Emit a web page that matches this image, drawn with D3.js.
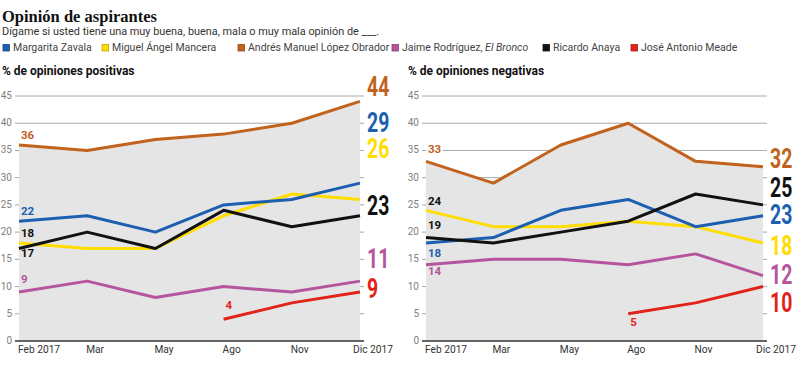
<!DOCTYPE html>
<html>
<head>
<meta charset="utf-8">
<script src="https://cdn.jsdelivr.net/npm/d3@7"></script>
<style>
  body { margin: 0; background: #fff; }
  svg text { font-family: Roboto, "Open Sans", sans-serif; }
</style>
</head>
<body>
<svg id="chart" width="800" height="371"></svg>
<script>
// data
const months = ["Feb 2017", "Mar", "May", "Ago", "Nov", "Dic 2017"];
const candidates = ["Margarita Zavala", "Miguel Ángel Mancera", "Andrés Manuel López Obrador",
  "Jaime Rodríguez, El Bronco", "Ricardo Anaya", "José Antonio Meade"];
const colors = ["#1c5fb0", "#ffdd00", "#c1621d", "#b4559e", "#111111", "#e2231a"];
const yTicks = [0, 5, 10, 15, 20, 25, 30, 35, 40, 45];

// % de opiniones positivas
const posZavala  = [22, 23, 20, 25, 26, 29];
const posMancera = [18, 17, 17, 23, 27, 26];
const posAmlo    = [36, 35, 37, 38, 40, 44];
const posBronco  = [9, 11, 8, 10, 9, 11];
const posAnaya   = [17, 20, 17, 24, 21, 23];
const posMeade   = [null, null, null, 4, 7, 9];

// % de opiniones negativas
const negZavala  = [18, 19, 24, 26, 21, 23];
const negMancera = [24, 21, 21, 22, 21, 18];
const negAmlo    = [33, 29, 36, 40, 33, 32];
const negBronco  = [14, 15, 15, 14, 16, 12];
const negAnaya   = [19, 18, 20, 22, 27, 25];
const negMeade   = [null, null, null, 5, 7, 10];

// label nudges (px), per candidate, to keep labels apart
const posStartDy = [-6, -6, -6, -9, 9, -10];
const posEndDy   = [-51, -41, -5, -13, -1, 6];
const negStartDy = [14, -5, -8, 10, -9, 12];
const negEndDy   = [8, 12, 1, 8, -8, 25];
const legendX = [2, 101, 237, 391, 542, 630];

const svg = d3.select("#chart");

// header
svg.append("text")
  .attr("x", 2).attr("y", 22)
  .style("font-family", "'Liberation Serif', serif")
  .style("font-weight", "bold")
  .style("font-size", "16.5px")
  .attr("fill", "#111")
  .text("Opinión de aspirantes");

svg.append("text")
  .attr("x", 2).attr("y", 35)
  .style("font-size", "10.9px")
  .attr("fill", "#333")
  .text("Dígame si usted tiene una muy buena, buena, mala o muy mala opinión de ___.");

const legend = svg.selectAll(".legend")
  .data(candidates)
  .enter().append("g")
  .attr("class", "legend")
  .attr("transform", (d, i) => `translate(${legendX[i]},51)`);

legend.append("rect")
  .attr("x", 1).attr("y", -6.5)
  .attr("width", 6.5).attr("height", 6.5)
  .attr("fill", (d, i) => colors[i])
  .attr("stroke", (d, i) => d3.color(colors[i]).darker(0.8))
  .attr("stroke-width", 0.8);

legend.append("text")
  .attr("x", 11).attr("y", 0)
  .style("font-size", "10.5px")
  .attr("fill", "#444")
  .each(function (d) {
    const t = d3.select(this);
    if (d.includes("El Bronco")) {
      t.append("tspan").text("Jaime Rodríguez, ");
      t.append("tspan").style("font-style", "italic").text("El Bronco");
    } else {
      t.text(d);
    }
  });

function drawPanel(opt) {
  const g = svg.append("g");

  const x = d3.scalePoint().domain(months).range([opt.left, opt.right]);
  const y = d3.scaleLinear().domain([0, 45]).range([341, 96]);

  g.append("text")
    .attr("x", opt.titleX).attr("y", 75)
    .style("font-size", "12px")
    .style("font-weight", "bold")
    .attr("fill", "#111")
    .text(opt.title);

  // grid lines
  g.selectAll(".grid")
    .data(yTicks.filter(d => d > 0))
    .enter().append("line")
    .attr("x1", opt.left - 4).attr("x2", opt.right + 4)
    .attr("y1", d => y(d)).attr("y2", d => y(d))
    .attr("stroke", "#a8a8a8")
    .attr("stroke-width", 1);

  g.selectAll(".ylab")
    .data(yTicks)
    .enter().append("text")
    .attr("x", opt.left - 7)
    .attr("y", d => y(d) + 3)
    .attr("text-anchor", "end")
    .style("font-size", "10px")
    .attr("fill", "#808080")
    .text(d => d);

  // grey area under the highest line
  const top = months.map((m, i) => d3.max(opt.series, s => s[i]));
  const area = d3.area()
    .x((d, i) => x(months[i]))
    .y0(y(0))
    .y1(d => y(d));
  g.append("path")
    .datum(top)
    .attr("d", area)
    .attr("fill", "#e5e5e5");

  // baseline
  g.append("line")
    .attr("x1", opt.left - 4).attr("x2", opt.right + 4)
    .attr("y1", y(0)).attr("y2", y(0))
    .attr("stroke", "#333")
    .attr("stroke-width", 1.5);

  const last = months[months.length - 1];
  g.selectAll(".xlab")
    .data(months)
    .enter().append("text")
    .attr("x", d => d === last ? x(d) + 33 : x(d) - 1)
    .attr("y", 353)
    .attr("text-anchor", d => d === last ? "end" : "start")
    .style("font-size", "10.2px")
    .attr("fill", "#333")
    .text(d => d);

  const line = d3.line()
    .defined(d => d != null)
    .x((d, i) => x(months[i]))
    .y(d => y(d));

  const order = [2, 1, 0, 3, 4, 5];
  order.forEach(i => {
    g.append("path")
      .datum(opt.series[i])
      .attr("d", line)
      .attr("fill", "none")
      .attr("stroke", colors[i])
      .attr("stroke-width", 3)
      .attr("stroke-linejoin", "round");
  });

  // first value labels
  opt.series.forEach((s, i) => {
    const k = s.findIndex(v => v != null);
    g.append("text")
      .attr("x", x(months[k]) + 2)
      .attr("y", y(s[k]) + opt.startDy[i])
      .style("font-size", "11.5px")
      .style("font-weight", "bold")
      .attr("fill", i === 1 ? "#111" : colors[i])
      .attr("stroke", i === 2 ? "#fff" : "none")
      .attr("stroke-width", 4)
      .attr("paint-order", "stroke")
      .text(s[k]);
  });

  // last value labels
  opt.series.forEach((s, i) => {
    const v = s[s.length - 1];
    g.append("text")
      .attr("transform", `translate(${opt.right + 7},${y(v) + opt.endDy[i]}) scale(0.72,1)`)
      .style("font-size", "27px")
      .style("font-weight", "bold")
      .attr("fill", colors[i])
      .text(v);
  });
}

drawPanel({
  title: "% de opiniones positivas",
  titleX: 2,
  left: 19, right: 360,
  series: [posZavala, posMancera, posAmlo, posBronco, posAnaya, posMeade],
  startDy: posStartDy,
  endDy: posEndDy
});

drawPanel({
  title: "% de opiniones negativas",
  titleX: 408,
  left: 426, right: 763,
  series: [negZavala, negMancera, negAmlo, negBronco, negAnaya, negMeade],
  startDy: negStartDy,
  endDy: negEndDy
});
</script>
</body>
</html>
